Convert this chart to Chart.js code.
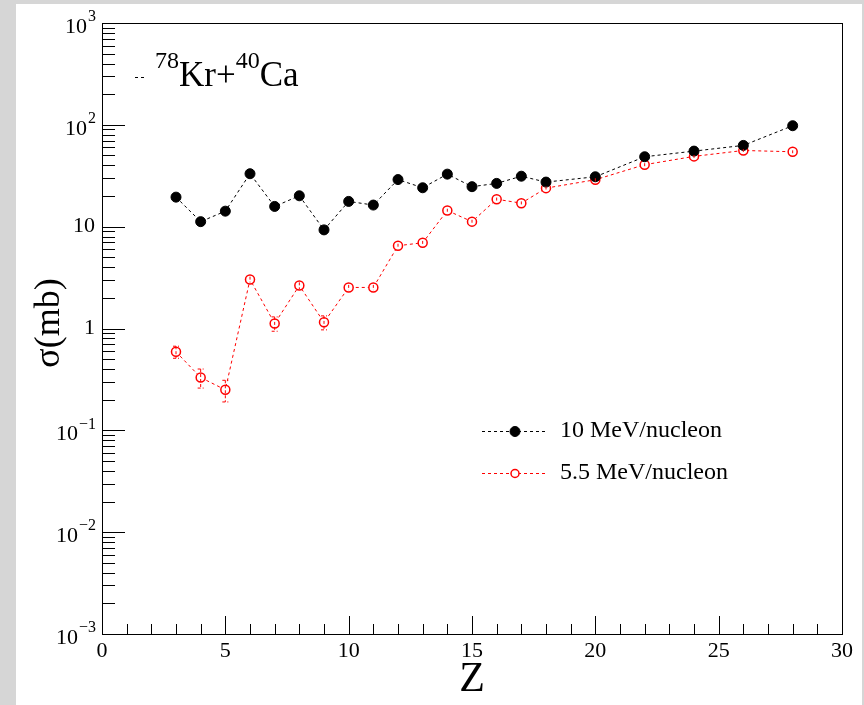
<!DOCTYPE html>
<html lang="en">
<head>
    <meta charset="UTF-8">
    <title>78Kr+40Ca cross sections</title>
    <script src="https://cdn.jsdelivr.net/npm/chart.js"></script>
    <style>
        body { margin: 0; background: #fff; }
        #wrap { width: 864px; height: 705px; }
    </style>
</head>
<body>
    <div id="wrap"><canvas id="sigmaChart"></canvas></div>

    <script>
        // Z of the fragment
        const zValues = [3, 4, 5, 6, 7, 8, 9, 10, 11, 12, 13, 14, 15, 16, 17, 18, 20, 22, 24, 26, 28];
        // cross section in mb, 10 MeV/nucleon
        const sigma10 = [19.5, 11.2, 14.2, 33.1, 15.8, 20.1, 9.3, 17.7, 16.3, 29, 24.1, 32.8, 24.7, 26.6, 31.3, 27.4, 30.9, 48.6, 55.2, 62.8, 98];
        // cross section in mb, 5.5 MeV/nucleon, with errors
        const sigma55 = [0.59, 0.33, 0.25, 3.03, 1.12, 2.64, 1.15, 2.53, 2.53, 6.5, 6.95, 14.4, 11.2, 18.6, 17.0, 23.9, 28.9, 40.6, 49, 56, 54.4];
        const err55 = [0.08, 0.07, 0.06, 0.2, 0.18, 0.2, 0.18, 0.15, 0.15, 0.3, 0.3, 0.6, 0.5, 0.7, 0.7, 0.9, 1.0, 1.4, 1.6, 1.8, 1.8];

        const seriesLabels = ['10 MeV/nucleon', '5.5 MeV/nucleon'];
        const xTickValues = [0, 5, 10, 15, 20, 25, 30];
        const yTickValues = [1e-3, 1e-2, 1e-1, 1, 10, 100, 1000];
        const yTickBase = ['10', '10', '10', '1', '10', '10', '10'];
        const yTickExp = ['\u22123', '\u22122', '\u22121', '', '', '2', '3'];

        const serif = '"Liberation Serif", "DejaVu Serif", serif';

        const rootStyle = {
            id: 'rootStyle',
            beforeDraw(chart) {
                const ctx = chart.ctx;
                ctx.save();
                ctx.fillStyle = '#d6d6d6';
                ctx.fillRect(0, 0, chart.width, chart.height);
                ctx.fillStyle = '#fff';
                ctx.fillRect(16, 4, 846, chart.height - 4);
                ctx.restore();
            },
            afterDatasetsDraw(chart) {
                const ctx = chart.ctx;
                const x = chart.scales.x, y = chart.scales.y;
                ctx.save();
                ctx.strokeStyle = 'red';
                ctx.lineWidth = 1;
                ctx.setLineDash([3, 2]);
                zValues.forEach((z, i) => {
                    const px = x.getPixelForValue(z);
                    const top = y.getPixelForValue(sigma55[i] + err55[i]);
                    const bot = y.getPixelForValue(sigma55[i] - err55[i]);
                    ctx.beginPath();
                    ctx.moveTo(px, top); ctx.lineTo(px, bot);
                    ctx.stroke();
                    if (bot - top > 12) {
                        ctx.beginPath();
                        ctx.moveTo(px - 3, top); ctx.lineTo(px + 3, top);
                        ctx.moveTo(px - 3, bot); ctx.lineTo(px + 3, bot);
                        ctx.stroke();
                    }
                });
                ctx.restore();
            },
            afterDraw(chart) {
                const ctx = chart.ctx;
                const a = chart.chartArea;
                const x = chart.scales.x, y = chart.scales.y;
                ctx.save();

                // frame
                ctx.strokeStyle = '#000';
                ctx.lineWidth = 1;
                ctx.strokeRect(a.left + 0.5, a.top + 0.5, a.right - a.left, a.bottom - a.top);

                // y ticks (inward)
                ctx.beginPath();
                for (let d = -3; d < 3; d++) {
                    for (let m = 1; m < 10; m++) {
                        const py = Math.round(y.getPixelForValue(m * Math.pow(10, d))) + 0.5;
                        const len = m === 1 ? 23 : 13;
                        ctx.moveTo(a.left, py); ctx.lineTo(a.left + len, py);
                    }
                }
                // x ticks (inward)
                for (let v = 0; v <= 30; v++) {
                    const px = Math.round(x.getPixelForValue(v)) + 0.5;
                    const len = v % 5 === 0 ? 18 : 10;
                    ctx.moveTo(px, a.bottom); ctx.lineTo(px, a.bottom - len);
                }
                ctx.stroke();

                // tick labels
                ctx.fillStyle = '#000';
                ctx.font = '22px ' + serif;
                ctx.textAlign = 'center';
                ctx.textBaseline = 'middle';
                xTickValues.forEach(v => {
                    ctx.fillText(String(v), x.getPixelForValue(v), 651);
                });
                yTickValues.forEach((v, i) => {
                    const py = y.getPixelForValue(v);
                    ctx.textAlign = 'right';
                    if (yTickExp[i]) {
                        ctx.font = '16px ' + serif;
                        const ew = ctx.measureText(yTickExp[i]).width;
                        ctx.fillText(yTickExp[i], 96, py - 6);
                        ctx.font = '22px ' + serif;
                        ctx.fillText(yTickBase[i], 95 - ew, py + 4);
                    } else {
                        ctx.font = '22px ' + serif;
                        ctx.fillText(yTickBase[i], 95, py);
                    }
                });

                // axis titles
                ctx.font = '42px ' + serif;
                ctx.textAlign = 'center';
                ctx.fillText('Z', 472, 680);
                ctx.save();
                ctx.translate(50, 323);
                ctx.rotate(-Math.PI / 2);
                ctx.font = '36px ' + serif;
                ctx.fillText('\u03c3(mb)', 0, 0);
                ctx.restore();

                // title
                ctx.beginPath();
                ctx.moveTo(135, 77.5); ctx.lineTo(138, 77.5);
                ctx.moveTo(141, 77.5); ctx.lineTo(144, 77.5);
                ctx.stroke();
                ctx.textAlign = 'left';
                ctx.textBaseline = 'alphabetic';
                const parts = [['78', true], ['Kr+', false], ['40', true], ['Ca', false]];
                let tx = 155;
                parts.forEach(([t, sup]) => {
                    ctx.font = (sup ? '24px ' : '35px ') + serif;
                    ctx.fillText(t, tx, sup ? 68 : 86);
                    tx += ctx.measureText(t).width;
                });

                // legend
                chart.data.datasets.forEach((ds, i) => {
                    const ly = 431 + i * 42;
                    ctx.strokeStyle = ds.borderColor;
                    ctx.lineWidth = 1;
                    ctx.setLineDash([3, 3]);
                    ctx.beginPath();
                    ctx.moveTo(482, ly + 0.5); ctx.lineTo(548, ly + 0.5);
                    ctx.stroke();
                    ctx.setLineDash([]);
                    ctx.beginPath();
                    ctx.arc(515, ly + 0.5, i === 0 ? 5 : 4, 0, Math.PI * 2);
                    ctx.fillStyle = ds.pointBackgroundColor;
                    ctx.fill();
                    ctx.lineWidth = ds.pointBorderWidth;
                    ctx.strokeStyle = ds.pointBorderColor;
                    ctx.stroke();
                    ctx.fillStyle = '#000';
                    ctx.font = '24px ' + serif;
                    ctx.textBaseline = 'middle';
                    ctx.fillText(seriesLabels[i], 560, ly);
                });

                ctx.restore();
            }
        };

        const sigmaChart = new Chart(document.getElementById('sigmaChart'), {
            type: 'line',
            data: {
                datasets: [{
                    label: seriesLabels[0],
                    data: zValues.map((z, i) => ({ x: z, y: sigma10[i] })),
                    borderColor: '#000',
                    borderWidth: 1,
                    borderDash: [3, 3],
                    pointRadius: 5,
                    pointBackgroundColor: '#000',
                    pointBorderColor: '#000',
                    pointBorderWidth: 1
                }, {
                    label: seriesLabels[1],
                    data: zValues.map((z, i) => ({ x: z, y: sigma55[i] })),
                    borderColor: 'red',
                    borderWidth: 1,
                    borderDash: [3, 3],
                    pointRadius: 4.5,
                    pointBackgroundColor: '#fff',
                    pointBorderColor: 'red',
                    pointBorderWidth: 1.5
                }]
            },
            options: {
                responsive: true,
                maintainAspectRatio: false,
                animation: false,
                layout: { padding: { left: 102, top: 23, right: 22, bottom: 71 } },
                plugins: { legend: { display: false }, tooltip: { enabled: false } },
                scales: {
                    x: { type: 'linear', min: 0, max: 30, display: false },
                    y: { type: 'logarithmic', min: 1e-3, max: 1e3, display: false }
                }
            },
            plugins: [rootStyle]
        });
    </script>
</body>
</html>
